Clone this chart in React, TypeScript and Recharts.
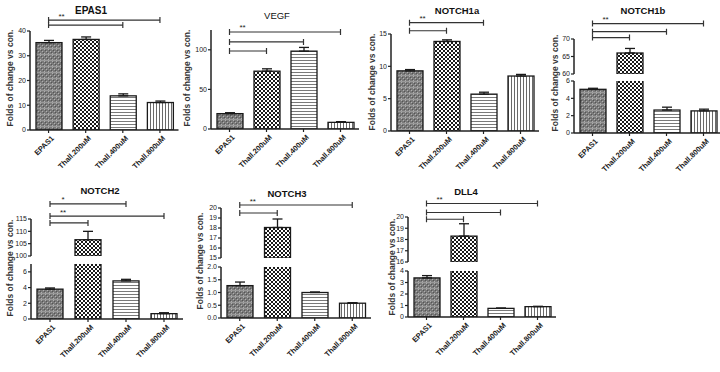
import React from 'react';
import { BarChart, Bar, XAxis, YAxis, ErrorBar, ReferenceLine } from 'recharts';

const categories = ['EPAS1', 'Thall.200uM', 'Thall.400uM', 'Thall.800uM'];

const epas1Values = [35.3, 36.6, 13.8, 11.1];
const epas1Errors = [0.9, 1.0, 0.8, 0.6];
const vegfValues = [19.4, 73, 98.3, 8.4];
const vegfErrors = [1.2, 3, 4.7, 0.9];
const notch1aValues = [9.3, 13.85, 5.7, 8.5];
const notch1aErrors = [0.2, 0.25, 0.3, 0.25];
const notch1bValues = [5.04, 66.0, 2.65, 2.55];
const notch1bErrors = [0.12, 1.3, 0.33, 0.2];
const notch2Values = [3.8, 106.6, 4.85, 0.68];
const notch2Errors = [0.15, 3.4, 0.2, 0.12];
const notch3Values = [1.27, 18.05, 1.0, 0.58];
const notch3Errors = [0.14, 0.85, 0.02, 0.02];
const dll4Values = [3.4, 18.3, 0.75, 0.9];
const dll4Errors = [0.2, 1.1, 0.03, 0.03];

const epas1Ticks = [0, 10, 20, 30, 40];
const vegfTicks = [0, 50, 100];
const notch1aTicks = [0, 5, 10, 15];
const notch1bUpperTicks = [60, 65, 70];
const notch1bLowerTicks = [0, 2, 4, 6];
const notch2UpperTicks = [100, 105, 110, 115];
const notch2LowerTicks = [0, 2, 4, 6];
const notch3UpperTicks = [15, 16, 17, 18, 19, 20];
const notch3LowerTicks = [0, 0.5, 1, 1.5, 2];
const dll4UpperTicks = [16, 17, 18, 19, 20];
const dll4LowerTicks = [0, 1, 2, 3, 4];

const epas1Brackets = [
  { to: 'Thall.800uM', level: 44.4, mark: '**' },
  { to: 'Thall.400uM', level: 42.4, mark: '' },
];
const vegfBrackets = [
  { to: 'Thall.800uM', level: 122.5, mark: '**' },
  { to: 'Thall.400uM', level: 110, mark: '' },
  { to: 'Thall.200uM', level: 98.5, mark: '' },
];
const notch1aBrackets = [
  { to: 'Thall.400uM', level: 16.75, mark: '**' },
  { to: 'Thall.200uM', level: 15.5, mark: '' },
];
const notch1bBrackets = [
  { to: 'Thall.800uM', level: 74.4, mark: '**' },
  { to: 'Thall.400uM', level: 72.1, mark: '' },
  { to: 'Thall.200uM', level: 70.4, mark: '' },
];
const notch2Brackets = [
  { to: 'Thall.400uM', level: 121.1, mark: '*' },
  { to: 'Thall.800uM', level: 116.2, mark: '**' },
  { to: 'Thall.200uM', level: 113.4, mark: '' },
];
const notch3Brackets = [
  { to: 'Thall.800uM', level: 20.3, mark: '**' },
  { to: 'Thall.200uM', level: 19.5, mark: '' },
];
const dll4Brackets = [
  { to: 'Thall.800uM', level: 21.2, mark: '**' },
  { to: 'Thall.400uM', level: 20.4, mark: '' },
  { to: 'Thall.200uM', level: 19.8, mark: '' },
];

const FONT = '"Liberation Sans", Arial, Helvetica, sans-serif';
const INK = '#222';

type Seg = { top: number; bottom: number; domain: [number, number]; ticks: number[]; fmt?: (v: number) => string };
type PanelCfg = {
  title: string;
  titleX: number;
  titleY: number;
  titleSize: number;
  titleWeight: number;
  labelX: number;
  labelY: number;
  plot: [number, number];
  values: number[];
  errors: number[];
  brackets: { to: string; level: number; mark: string }[];
  segments: Seg[];
};

const panels: PanelCfg[] = [
  {
    title: 'EPAS1', titleX: 91, titleY: 10, titleSize: 10, titleWeight: 700, labelX: 10, labelY: 78,
    plot: [29.5, 178], values: epas1Values, errors: epas1Errors, brackets: epas1Brackets,
    segments: [{ top: 31, bottom: 130, domain: [0, 40], ticks: epas1Ticks }],
  },
  {
    title: 'VEGF', titleX: 277, titleY: 15, titleSize: 9.5, titleWeight: 400, labelX: 187, labelY: 78,
    plot: [211, 359], values: vegfValues, errors: vegfErrors, brackets: vegfBrackets,
    segments: [{ top: 30, bottom: 129, domain: [0, 125], ticks: vegfTicks }],
  },
  {
    title: 'NOTCH1a', titleX: 457, titleY: 10, titleSize: 9.5, titleWeight: 700, labelX: 372, labelY: 82,
    plot: [391, 539], values: notch1aValues, errors: notch1aErrors, brackets: notch1aBrackets,
    segments: [{ top: 34, bottom: 131, domain: [0, 15], ticks: notch1aTicks }],
  },
  {
    title: 'NOTCH1b', titleX: 643, titleY: 10, titleSize: 9.5, titleWeight: 700, labelX: 555, labelY: 83,
    plot: [574, 722], values: notch1bValues, errors: notch1bErrors, brackets: notch1bBrackets,
    segments: [
      { top: 39, bottom: 74, domain: [60, 70], ticks: notch1bUpperTicks },
      { top: 81, bottom: 133, domain: [0, 6], ticks: notch1bLowerTicks },
    ],
  },
  {
    title: 'NOTCH2', titleX: 100, titleY: 190, titleSize: 9.5, titleWeight: 700, labelX: 10, labelY: 268,
    plot: [31, 183], values: notch2Values, errors: notch2Errors, brackets: notch2Brackets,
    segments: [
      { top: 219, bottom: 256, domain: [100, 115], ticks: notch2UpperTicks },
      { top: 264, bottom: 319, domain: [0, 7], ticks: notch2LowerTicks },
    ],
  },
  {
    title: 'NOTCH3', titleX: 287, titleY: 193, titleSize: 9.5, titleWeight: 700, labelX: 200, labelY: 261,
    plot: [221, 371], values: notch3Values, errors: notch3Errors, brackets: notch3Brackets,
    segments: [
      { top: 208, bottom: 258, domain: [15, 20], ticks: notch3UpperTicks },
      { top: 267, bottom: 318, domain: [0, 2], ticks: notch3LowerTicks, fmt: (v) => v.toFixed(1) },
    ],
  },
  {
    title: 'DLL4', titleX: 466, titleY: 191, titleSize: 9.5, titleWeight: 700, labelX: 392, labelY: 267,
    plot: [408, 556], values: dll4Values, errors: dll4Errors, brackets: dll4Brackets,
    segments: [
      { top: 217, bottom: 262, domain: [16, 20], ticks: dll4UpperTicks },
      { top: 271, bottom: 317, domain: [0, 4], ticks: dll4LowerTicks },
    ],
  },
];

const RotTick = (props: any) => {
  const { x, y, payload } = props;
  return (
    <g transform={`translate(${x + 3},${y + 1})`}>
      <text
        x={0}
        y={0}
        dy={4}
        textAnchor="end"
        transform="rotate(-45)"
        fontSize={7.5}
        fontWeight={700}
        fontFamily={FONT}
        fill={INK}
      >
        {payload.value}
      </text>
    </g>
  );
};

const makeBracket = (mark: string) => (props: any) => {
  const { x1, y1, x2 } = props;
  if (x1 == null || y1 == null || x2 == null) return <g />;
  return (
    <g>
      <path
        d={`M${x1},${y1}H${x2}M${x1},${y1 - 3}V${y1 + 3}M${x2},${y1 - 3}V${y1 + 3}`}
        stroke="#333"
        strokeWidth={1.2}
        fill="none"
      />
      {mark ? (
        <text x={x1 + 13} y={y1 - 1.5} textAnchor="middle" fontSize={8} fontFamily={FONT} fill={INK}>
          {mark}
        </text>
      ) : null}
    </g>
  );
};

const makeBarShape = (min: number) => (props: any) => {
  const { x, y, width, height, index, payload } = props;
  const v = payload ? payload.value : props.value;
  if (v == null || v <= min || height == null) return <g />;
  const top = Math.min(y, y + height);
  const h = Math.abs(height);
  return (
    <rect x={x} y={top} width={width} height={h} fill={`url(#pat${index})`} stroke="#1a1a1a" strokeWidth={1.3} />
  );
};

const Panel = ({ cfg }: { cfg: PanelCfg }) => {
  const data = categories.map((name, i) => ({ name, value: cfg.values[i], err: [0, cfg.errors[i]] }));
  const YW = 30, MT = 30, MR = 6, XH = 52;
  const plotW = cfg.plot[1] - cfg.plot[0];
  return (
    <>
      <div
        style={{
          position: 'absolute', left: cfg.titleX, top: cfg.titleY, transform: 'translate(-50%,-50%)',
          fontFamily: FONT, fontSize: cfg.titleSize, fontWeight: cfg.titleWeight, color: '#111', whiteSpace: 'nowrap',
        }}
      >
        {cfg.title}
      </div>
      <div
        style={{
          position: 'absolute', left: cfg.labelX, top: cfg.labelY, transform: 'translate(-50%,-50%) rotate(-90deg)',
          fontFamily: FONT, fontSize: 8.5, fontWeight: 700, color: '#333', whiteSpace: 'nowrap',
        }}
      >
        Folds of change vs con.
      </div>
      {cfg.segments.map((seg, si) => {
        const isLast = si === cfg.segments.length - 1;
        const isFirst = si === 0;
        const MB = isLast ? 2 : 6;
        const h = MT + (seg.bottom - seg.top) + (isLast ? XH : 0) + MB;
        return (
          <div key={si} style={{ position: 'absolute', left: cfg.plot[0] - YW, top: seg.top - MT }}>
            <BarChart
              width={plotW + YW + MR}
              height={h}
              data={data}
              margin={{ top: MT, right: MR, bottom: MB, left: 0 }}
            >
              <XAxis
                dataKey="name"
                hide={!isLast}
                height={XH}
                interval={0}
                axisLine={{ stroke: INK, strokeWidth: 1.5 }}
                tickLine={{ stroke: INK, strokeWidth: 1.2 }}
                tickSize={3}
                tick={<RotTick />}
              />
              <YAxis
                type="number"
                width={YW}
                domain={seg.domain}
                ticks={seg.ticks}
                allowDataOverflow
                interval={0}
                tickFormatter={seg.fmt}
                axisLine={{ stroke: INK, strokeWidth: 1.5 }}
                tickLine={{ stroke: INK, strokeWidth: 1.2 }}
                tickSize={3}
                tickMargin={1}
                tick={{ fontSize: 7, fontFamily: FONT, fill: INK }}
              />
              <Bar
                dataKey="value"
                barSize={26}
                fill="#888"
                stroke="#1a1a1a"
                strokeWidth={1.3}
                isAnimationActive={false}
                shape={makeBarShape(seg.domain[0])}
              >
                <ErrorBar dataKey="err" direction="y" width={5} stroke="#1a1a1a" strokeWidth={1.3} isAnimationActive={false} />
              </Bar>
              {isFirst &&
                cfg.brackets.map((b, bi) => (
                  <ReferenceLine
                    key={bi}
                    ifOverflow="visible"
                    segment={[{ x: categories[0], y: b.level }, { x: b.to, y: b.level }]}
                    shape={makeBracket(b.mark)}
                  />
                ))}
            </BarChart>
          </div>
        );
      })}
    </>
  );
};

export default function App() {
  return (
    <div style={{ position: 'relative', width: 720, height: 372, overflow: 'hidden', background: '#fff' }}>
      <style>{'body{margin:0;background:#fff}'}</style>
      <svg width={0} height={0} style={{ position: 'absolute' }}>
        <defs>
          <pattern id="pat0" width={4} height={6} patternUnits="userSpaceOnUse">
            <rect width={4} height={6} fill="#7a7a7a" />
            <rect x={0} y={0} width={1} height={1} fill="#b0b0b0" />
            <rect x={2} y={2} width={1} height={1} fill="#b0b0b0" />
            <rect x={0} y={4} width={1} height={1} fill="#b0b0b0" />
            <rect x={1} y={1} width={1} height={1} fill="#555" />
            <rect x={3} y={3} width={1} height={1} fill="#555" />
            <rect x={0} y={5} width={4} height={1} fill="#999" />
          </pattern>
          <pattern id="pat1" width={4} height={4} patternUnits="userSpaceOnUse">
            <rect width={4} height={4} fill="#fff" />
            <rect x={0} y={0} width={2} height={2} fill="#1a1a1a" />
            <rect x={2} y={2} width={2} height={2} fill="#1a1a1a" />
          </pattern>
          <pattern id="pat2" width={4} height={3} patternUnits="userSpaceOnUse">
            <rect width={4} height={3} fill="#fff" />
            <rect x={0} y={0} width={4} height={1} fill="#7a7a7a" />
          </pattern>
          <pattern id="pat3" width={3} height={4} patternUnits="userSpaceOnUse">
            <rect width={3} height={4} fill="#fff" />
            <rect x={0} y={0} width={1} height={4} fill="#6a6a6a" />
          </pattern>
        </defs>
      </svg>
      {panels.map((p) => (
        <Panel key={p.title} cfg={p} />
      ))}
    </div>
  );
}
